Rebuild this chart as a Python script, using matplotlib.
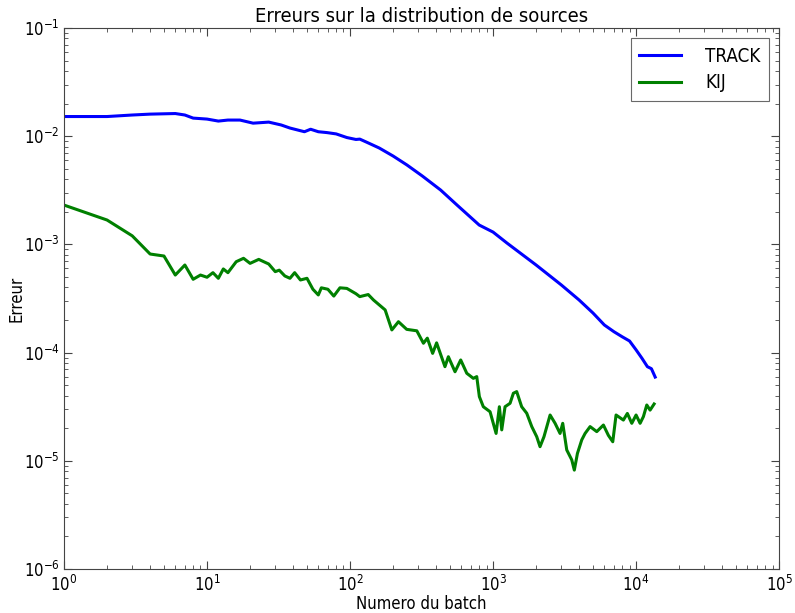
import numpy as np
import matplotlib
matplotlib.use('Agg')
import matplotlib.pyplot as plt

# TRACK series
track_batch = [1, 2, 3, 4, 6, 7, 8, 10, 12, 14, 17, 21, 27, 33, 38, 48, 53, 60,
               69, 80, 95, 110, 117, 130, 160, 200, 250, 320, 430, 560, 800,
               1000, 1250, 2000, 3000, 4000, 5000, 6000, 7000, 8000, 9000,
               10000, 11000, 12000, 12800, 13600]
track_err = [0.0152, 0.0152, 0.0157, 0.0160, 0.0162, 0.0157, 0.0147, 0.0144,
             0.0138, 0.0141, 0.0141, 0.0132, 0.0135, 0.0127, 0.0119, 0.0110,
             0.0116, 0.0110, 0.0108, 0.0105, 0.00972, 0.00933, 0.0094,
             0.00883, 0.00778, 0.00656, 0.00542, 0.00429, 0.00318, 0.00231,
             0.00151, 0.00130, 0.00103, 0.000645, 0.000422, 0.000306,
             0.000232, 0.000180, 0.000156, 0.000140, 0.000128, 0.000106,
             8.85e-05, 7.41e-05, 7.1e-05, 5.94e-05]

# KIJ series
kij_batch = [1, 2, 3, 4, 5, 6, 7, 8, 9, 10, 11, 12, 13, 14, 16, 18, 20, 23, 27,
             30, 32, 35, 38, 41, 45, 50, 55, 60, 63, 70, 77, 85, 95, 110, 117,
             134, 146, 176, 196, 218, 249, 293, 326, 347, 378, 403, 461, 487,
             542, 594, 655, 728, 769, 802, 855, 953, 1050, 1107, 1150, 1213,
             1315, 1387, 1463, 1585, 1720, 1865, 2020, 2130, 2270, 2505, 2715,
             2940, 3070, 3275, 3550, 3700, 3890, 4170, 4400, 4770, 5310, 5910,
             6400, 6870, 7245, 8150, 8690, 9330, 10000, 10670, 11250, 11880,
             12530, 13370]
kij_err = [0.00231, 0.00168, 0.00120, 0.000815, 0.000781, 0.000521, 0.000645,
           0.000476, 0.000521, 0.000497, 0.000548, 0.000486, 0.000593,
           0.000548, 0.000692, 0.000744, 0.000668, 0.000727, 0.000659,
           0.000560, 0.000578, 0.000511, 0.000486, 0.000548, 0.000469,
           0.000486, 0.000385, 0.000341, 0.000397, 0.000385, 0.000333,
           0.000397, 0.000392, 0.000350, 0.000329, 0.000344, 0.000306,
           0.000248, 0.000162, 0.000193, 0.000164, 0.000159, 0.000122,
           0.000136, 9.84e-05, 0.000123, 7.41e-05, 9.16e-05, 6.65e-05,
           8.55e-05, 6.44e-05, 5.78e-05, 6.0e-05, 3.92e-05, 3.16e-05,
           2.84e-05, 1.79e-05, 3.16e-05, 1.93e-05, 3.16e-05, 3.40e-05,
           4.21e-05, 4.36e-05, 3.16e-05, 2.75e-05, 2.07e-05, 1.67e-05,
           1.35e-05, 1.67e-05, 2.65e-05, 2.22e-05, 1.79e-05, 2.22e-05,
           1.26e-05, 1.02e-05, 8.2e-06, 1.17e-05, 1.56e-05, 1.79e-05,
           2.07e-05, 1.86e-05, 2.14e-05, 1.72e-05, 1.50e-05, 2.65e-05,
           2.38e-05, 2.74e-05, 2.22e-05, 2.65e-05, 2.22e-05, 2.56e-05,
           3.28e-05, 2.94e-05, 3.35e-05]

plt.rcParams['font.family'] = ['DejaVu Sans']
plt.rcParams['font.stretch'] = 'condensed'
plt.rcParams['xtick.direction'] = 'in'
plt.rcParams['ytick.direction'] = 'in'
plt.rcParams['xtick.top'] = True
plt.rcParams['ytick.right'] = True

fig = plt.figure(figsize=(7.95, 6.13), dpi=100)
ax = fig.add_axes([0.0805, 0.0718, 0.8995, 0.8825])

ax.loglog(track_batch, track_err, color='#0000ff', lw=2.2, label='TRACK')
ax.loglog(kij_batch, kij_err, color='#008000', lw=2.2, label='KIJ')

ax.set_xlim(1, 1e5)
ax.set_ylim(1e-6, 1e-1)
ax.tick_params(which='major', length=6, labelsize=12, color='#444444')
ax.tick_params(which='minor', length=3, color='#444444')
ax.tick_params(axis='x', pad=4)
ax.tick_params(axis='y', pad=3)
for s in ax.spines.values():
    s.set_color('#444444')

ax.set_title('Erreurs sur la distribution de sources', fontsize=14.5, pad=4)
ax.set_xlabel('Numero du batch', fontsize=12, labelpad=0)
ax.set_ylabel('Erreur', fontsize=12)
ax.yaxis.set_label_coords(-0.0545, 0.5)

leg = ax.legend(loc='upper right', fontsize=13.5, fancybox=False,
                handlelength=2.2, handletextpad=1.3, borderpad=0.45,
                borderaxespad=0.55, labelspacing=0.4)
leg.get_frame().set_edgecolor('#444444')
leg.get_frame().set_linewidth(0.8)

fig.savefig('out.png', dpi=100)
